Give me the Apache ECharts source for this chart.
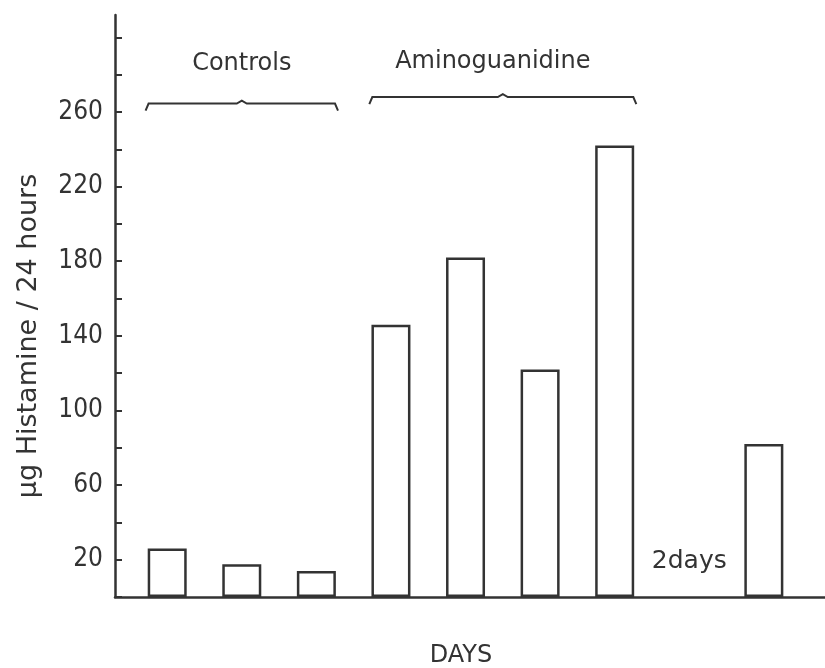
<!DOCTYPE html>
<html>
<head>
<meta charset="utf-8">
<script src="https://cdn.jsdelivr.net/npm/echarts@6/dist/echarts.min.js"></script>
<style>
  html, body { margin: 0; padding: 0; background: #fff; }
  #chart { width: 825px; height: 668px; }
</style>
</head>
<body>
<div id="chart"></div>
<script>
// ---- data ----
const daySlots = [1, 2, 3, 4, 5, 6, 7, 9];            // day slot of each bar (slot 8 = "2days" gap)
const histamine = [26, 17.5, 14, 146, 182, 122, 242, 82]; // µg histamine / 24 h
const yTickLabels = [20, 60, 100, 140, 180, 220, 260];
const groupNames = ['Controls', 'Aminoguanidine'];
const groupFirstSlot = [1, 4];
const groupLastSlot = [3, 7];
const groupBracketLevel = [264.5, 268];
const groupLabelLevel = [286, 287];
const gapNote = ['2days'];
const gapNoteSlot = [8];
const gapNoteLevel = [19];

const FONT = '"DejaVu Sans Condensed", "DejaVu Sans", sans-serif';
const FONT_WIDE = '"DejaVu Sans", sans-serif';
const INK = '#333';

const barData = daySlots.map((s, i) => [s, histamine[i]]);
const bracketData = groupNames.map((n, i) => [groupFirstSlot[i], groupLastSlot[i], groupBracketLevel[i], groupLabelLevel[i]]);
const noteData = gapNote.map((t, i) => ({ value: [gapNoteSlot[i], gapNoteLevel[i]], name: t }));

const chart = echarts.init(document.getElementById('chart'), null, { renderer: 'canvas' });

chart.setOption({
  backgroundColor: '#fff',
  animation: false,
  grid: { left: 115, right: 0, top: 15, bottom: 71, containLabel: false, outerBoundsMode: 'none' },
  xAxis: {
    type: 'value',
    min: 0.3,
    max: 9.82,
    name: 'DAYS',
    nameLocation: 'middle',
    nameGap: 47,
    nameTextStyle: { fontFamily: FONT_WIDE, fontSize: 24, color: INK, padding: [0, 18, 0, 0] },
    axisLine: { onZero: true, lineStyle: { color: INK, width: 2.5 } },
    axisTick: { show: false },
    axisLabel: { show: false },
    splitLine: { show: false }
  },
  yAxis: {
    type: 'value',
    min: 0,
    max: 312,
    interval: 20,
    axisLine: { show: true, onZero: false, lineStyle: { color: INK, width: 2.5 } },
    axisTick: { show: true, inside: true, length: 7, lineStyle: { color: INK, width: 2 } },
    axisLabel: {
      margin: 12,
      fontFamily: FONT,
      fontSize: 26,
      color: INK,
      showMaxLabel: false,
      formatter: v => (yTickLabels.indexOf(v) >= 0 ? String(v) : '')
    },
    splitLine: { show: false }
  },
  graphic: [{
    type: 'text',
    x: 29,
    y: 336,
    rotation: Math.PI / 2,
    style: {
      text: 'µg Histamine / 24 hours',
      fontFamily: FONT_WIDE,
      fontSize: 27,
      fill: INK,
      align: 'center',
      verticalAlign: 'middle'
    }
  }],
  series: [
    {
      type: 'bar',
      data: barData,
      barWidth: 39,
      itemStyle: { color: '#fff', borderColor: INK, borderWidth: 2.5 },
      silent: true
    },
    {
      type: 'custom',
      data: bracketData,
      silent: true,
      renderItem: function (params, api) {
        const s = api.value(0), e = api.value(1), lv = api.value(2), tl = api.value(3);
        const a = api.coord([s - 0.29, lv]);
        const b = api.coord([e + 0.29, lv]);
        const m = api.coord([(s + e) / 2, lv]);
        const t = api.coord([(s + e) / 2, tl]);
        return {
          type: 'group',
          children: [
            {
              type: 'polyline',
              shape: { points: [
                [a[0], a[1] + 7], [a[0] + 3, a[1]], [m[0] - 5, m[1]], [m[0], m[1] - 3],
                [m[0] + 5, m[1]], [b[0] - 3, b[1]], [b[0], b[1] + 7]
              ] },
              style: { stroke: INK, lineWidth: 2, fill: 'none' }
            },
            {
              type: 'text',
              x: t[0] - (params.dataIndex === 1 ? 10 : 0), y: t[1],
              style: {
                text: groupNames[params.dataIndex],
                fontFamily: FONT_WIDE, fontSize: 24, fill: INK,
                align: 'center', verticalAlign: 'middle'
              }
            }
          ]
        };
      }
    },
    {
      type: 'scatter',
      data: noteData,
      symbolSize: 0,
      silent: true,
      itemStyle: { opacity: 1 },
      label: {
        show: true,
        position: [0, 0],
        align: 'center',
        verticalAlign: 'middle',
        formatter: p => p.name,
        fontFamily: FONT_WIDE,
        fontSize: 25,
        color: INK
      }
    }
  ]
});
</script>
</body>
</html>
